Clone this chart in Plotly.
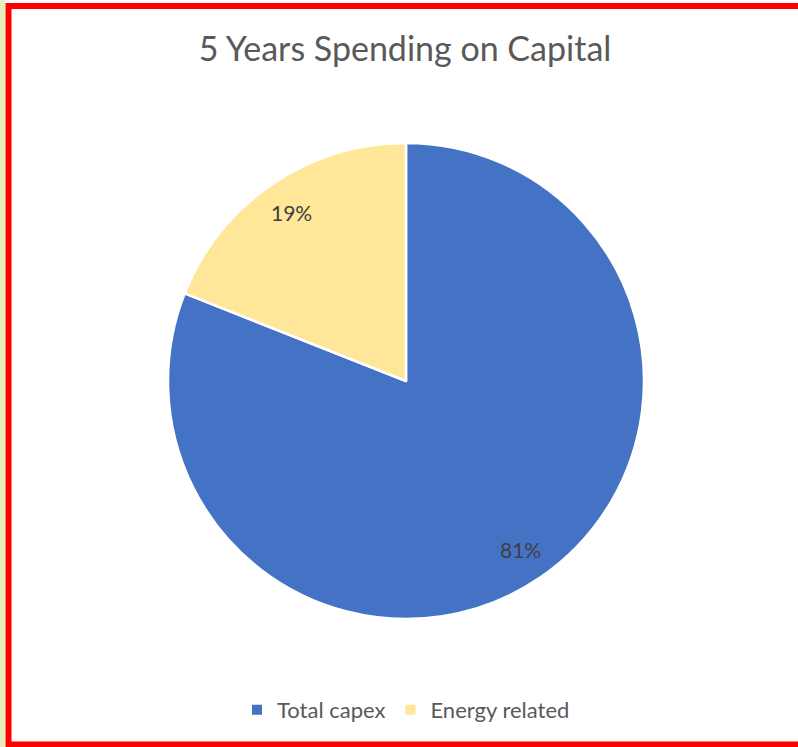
import math
import plotly.graph_objects as go

labels = ["Total capex", "Energy related"]
values = [81, 19]
colors = ["#4472C4", "#FFE699"]
title_text = "5 Years Spending on Capital"

W, H = 798, 747
cx, cy, r = 406, 381, 238
label_r = 0.855  # fraction of radius where percentage labels sit

dom_x = [(cx - r) / W, (cx + r) / W]
dom_y = [1 - (cy + r) / H, 1 - (cy - r) / H]

fig = go.Figure(go.Pie(
    labels=labels,
    values=values,
    marker=dict(colors=colors, line=dict(color="white", width=2.5)),
    sort=False,
    direction="clockwise",
    rotation=0,
    textinfo="none",
    hoverinfo="label+percent",
    domain=dict(x=dom_x, y=dom_y),
))

# percentage labels placed along each slice's mid-angle (derived from the values)
total = sum(values)
annotations = []
cum = 0.0
for v in values:
    mid = (cum + v / 2) / total * 2 * math.pi  # clockwise from 12 o'clock
    cum += v
    px = cx + label_r * r * math.sin(mid)
    py = cy - label_r * r * math.cos(mid)
    annotations.append(dict(
        x=px / W, y=1 - py / H, xref="paper", yref="paper",
        text=f"{round(v / total * 100)}%", showarrow=False,
        xanchor="center", yanchor="middle",
        font=dict(family="Lato", size=21, color="#404040"),
    ))

fig.update_layout(
    width=W, height=H,
    margin=dict(l=0, r=0, t=0, b=0),
    paper_bgcolor="white",
    plot_bgcolor="white",
    title=dict(text=title_text, x=405 / W, xanchor="center", y=1 - 49 / H, yanchor="middle",
               font=dict(family="Lato", size=34, color="#595959")),
    legend=dict(orientation="h", x=406 / W, xanchor="center", y=1 - 710 / H, yanchor="middle",
                font=dict(family="Lato", size=22, color="#595959"), itemsizing="constant"),
    annotations=annotations,
    shapes=[
        dict(type="rect", xref="paper", yref="paper", x0=0, x1=5 / W, y0=0, y1=1,
             fillcolor="#e6eebb", line=dict(width=0), layer="below"),
        dict(type="rect", xref="paper", yref="paper", x0=8.5 / W, x1=1.02, y0=1 - 744.5 / H, y1=1 - 6 / H,
             fillcolor="rgba(0,0,0,0)", line=dict(color="#FF0000", width=6), layer="above"),
    ],
)

fig.write_html("out.html")
